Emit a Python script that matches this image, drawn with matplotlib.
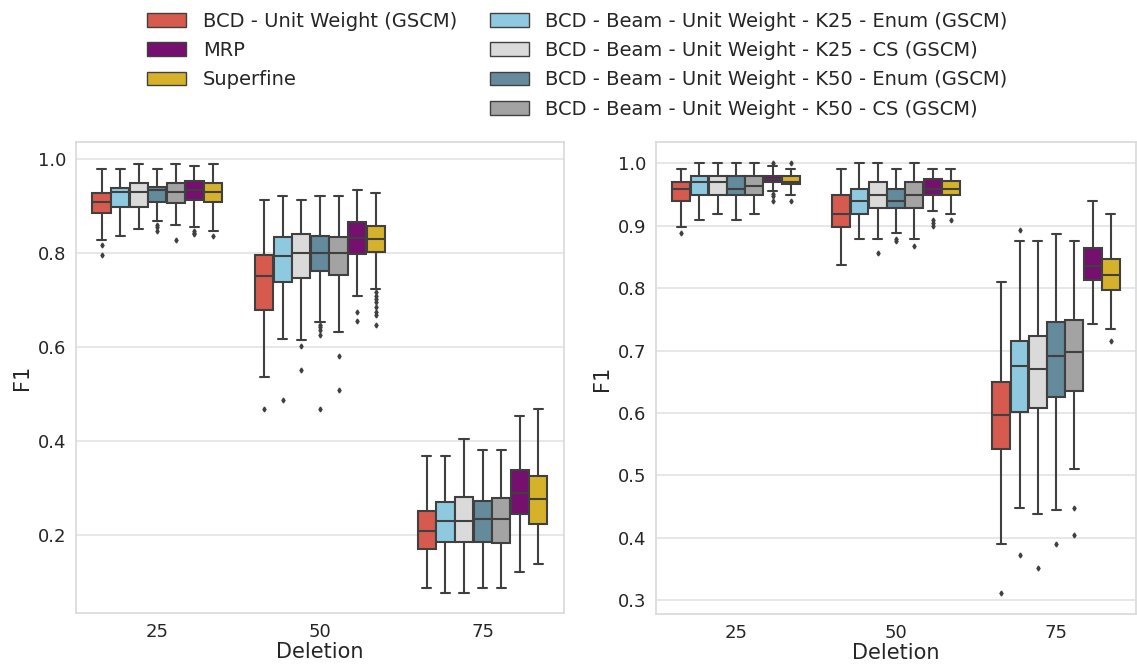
import matplotlib
matplotlib.use("Agg")
import matplotlib.pyplot as plt
from matplotlib.patches import Patch
import seaborn as sns

methods = [
    "BCD - Unit Weight (GSCM)",
    "BCD - Beam - Unit Weight - K25 - Enum (GSCM)",
    "BCD - Beam - Unit Weight - K25 - CS (GSCM)",
    "BCD - Beam - Unit Weight - K50 - Enum (GSCM)",
    "BCD - Beam - Unit Weight - K50 - CS (GSCM)",
    "MRP",
    "Superfine",
]
colors = ["#d65b4e", "#8fc9e0", "#dadada", "#648a9c", "#a3a3a3", "#76106f", "#d6b22b"]
deletions = ["25", "50", "75"]

# left panel, one row per deletion level, one value per method
left_whislo = [[0.827, 0.837, 0.851, 0.868, 0.860, 0.856, 0.847],
               [0.536, 0.618, 0.615, 0.653, 0.632, 0.709, 0.723],
               [0.088, 0.077, 0.077, 0.088, 0.088, 0.122, 0.139]]
left_q1 = [[0.886, 0.898, 0.898, 0.909, 0.906, 0.913, 0.909],
           [0.679, 0.738, 0.747, 0.762, 0.753, 0.798, 0.801],
           [0.170, 0.186, 0.186, 0.186, 0.182, 0.245, 0.224]]
left_med = [[0.909, 0.929, 0.929, 0.933, 0.929, 0.933, 0.929],
            [0.752, 0.794, 0.800, 0.800, 0.799, 0.831, 0.830],
            [0.209, 0.229, 0.229, 0.233, 0.235, 0.289, 0.276]]
left_q3 = [[0.928, 0.938, 0.949, 0.940, 0.949, 0.953, 0.949],
           [0.795, 0.834, 0.840, 0.837, 0.834, 0.865, 0.857],
           [0.252, 0.271, 0.280, 0.273, 0.279, 0.338, 0.326]]
left_whishi = [[0.979, 0.979, 0.990, 0.979, 0.990, 0.985, 0.990],
               [0.912, 0.922, 0.912, 0.922, 0.922, 0.933, 0.928],
               [0.368, 0.368, 0.404, 0.381, 0.381, 0.454, 0.468]]
left_fliers = [[[0.816, 0.795], [], [], [0.860, 0.855, 0.847], [0.827], [0.847, 0.843, 0.841], [0.836]],
               [[0.467], [0.487], [0.601, 0.550], [0.647, 0.642, 0.636, 0.626, 0.467], [0.580, 0.508],
                [0.674, 0.656], [0.716, 0.709, 0.702, 0.695, 0.686, 0.675, 0.668, 0.646]],
               [[], [], [], [], [], [], []]]

# right panel
right_whislo = [[0.898, 0.909, 0.918, 0.909, 0.918, 0.955, 0.949],
                [0.837, 0.878, 0.878, 0.888, 0.878, 0.924, 0.918],
                [0.390, 0.448, 0.438, 0.444, 0.511, 0.742, 0.735]]
right_q1 = [[0.939, 0.949, 0.949, 0.949, 0.949, 0.970, 0.967],
            [0.898, 0.918, 0.929, 0.929, 0.929, 0.949, 0.949],
            [0.543, 0.601, 0.608, 0.625, 0.635, 0.813, 0.797]]
right_med = [[0.959, 0.970, 0.970, 0.959, 0.964, 0.974, 0.970],
             [0.918, 0.939, 0.949, 0.939, 0.949, 0.959, 0.959],
             [0.596, 0.676, 0.671, 0.691, 0.697, 0.835, 0.821]]
right_q3 = [[0.970, 0.979, 0.979, 0.979, 0.979, 0.979, 0.979],
            [0.949, 0.959, 0.970, 0.959, 0.970, 0.974, 0.972],
            [0.650, 0.715, 0.723, 0.745, 0.749, 0.864, 0.847]]
right_whishi = [[0.990, 1.000, 1.000, 1.000, 1.000, 0.995, 0.990],
                [0.990, 1.000, 1.000, 0.990, 1.000, 0.990, 0.990],
                [0.809, 0.875, 0.875, 0.886, 0.875, 0.939, 0.918]]
right_fliers = [[[0.888], [], [], [], [], [1.000, 0.950, 0.947, 0.939], [1.000, 0.939]],
                [[], [], [0.857], [0.878, 0.876], [0.867], [0.909, 0.905, 0.900], [0.909]],
                [[0.311], [0.893, 0.372], [0.351], [0.390], [0.448, 0.405], [], [0.715]]]

sns.set_style("whitegrid")
plt.rcParams["font.family"] = ["DejaVu Sans"]
plt.rcParams["text.color"] = "#262626"
plt.rcParams["axes.labelcolor"] = "#262626"
plt.rcParams["xtick.color"] = "#262626"
plt.rcParams["ytick.color"] = "#262626"

fig = plt.figure(figsize=(11.37, 6.69), dpi=100)
ax_left = fig.add_axes([0.0668, 0.0837, 0.4292, 0.704])
ax_right = fig.add_axes([0.577, 0.0822, 0.4222, 0.7055])

line_col = "#404040"
n = len(methods)
slot = 0.8 / n


def draw_panel(ax, whislo, q1, med, q3, whishi, fliers):
    for j in range(n):
        stats = []
        for i in range(len(deletions)):
            stats.append(dict(whislo=whislo[i][j], q1=q1[i][j], med=med[i][j],
                              q3=q3[i][j], whishi=whishi[i][j], fliers=fliers[i][j]))
        pos = [i - 0.4 + slot * (j + 0.5) for i in range(len(deletions))]
        ax.bxp(stats, positions=pos, widths=slot * 0.98, patch_artist=True,
               manage_ticks=False,
               boxprops=dict(facecolor=colors[j], edgecolor=line_col, linewidth=1.5),
               medianprops=dict(color=line_col, linewidth=1.5),
               whiskerprops=dict(color=line_col, linewidth=1.5),
               capprops=dict(color=line_col, linewidth=1.5),
               flierprops=dict(marker="d", markersize=2.5, markerfacecolor=line_col,
                               markeredgecolor=line_col))
    ax.set_xticks(range(len(deletions)))
    ax.set_xticklabels(deletions)
    ax.set_xlim(-0.5, len(deletions) - 0.5)
    ax.set_xlabel("Deletion", fontsize=15, labelpad=1)
    ax.set_ylabel("F1", fontsize=15)
    ax.tick_params(labelsize=13)
    ax.grid(axis="x", visible=False)
    ax.grid(axis="y", color="#e3e3e3", linewidth=1.2)
    for s in ax.spines.values():
        s.set_color("#d9d9d9")
        s.set_linewidth(1.2)


draw_panel(ax_left, left_whislo, left_q1, left_med, left_q3, left_whishi, left_fliers)
draw_panel(ax_right, right_whislo, right_q1, right_med, right_q3, right_whishi, right_fliers)

ax_left.set_ylim(0.034, 1.036)
ax_left.set_yticks([0.2, 0.4, 0.6, 0.8, 1.0])
ax_right.set_ylim(0.278, 1.034)
ax_right.set_yticks([0.3, 0.4, 0.5, 0.6, 0.7, 0.8, 0.9, 1.0])

# legend: 3 entries in the first column, 4 in the second
order = [0, 5, 6, None, 1, 2, 3, 4]
handles = []
labels = []
for k in order:
    if k is None:
        handles.append(Patch(facecolor="none", edgecolor="none"))
        labels.append("")
    else:
        handles.append(Patch(facecolor=colors[k], edgecolor=line_col, linewidth=1.0))
        labels.append(methods[k])
fig.legend(handles, labels, loc="upper center", bbox_to_anchor=(0.508, 1.0), ncol=2,
           frameon=False, fontsize=14, handlelength=2.0, handleheight=0.7,
           handletextpad=0.85, labelspacing=0.53, columnspacing=1.7,
           borderaxespad=0.2)

fig.savefig("out.png", dpi=100)
